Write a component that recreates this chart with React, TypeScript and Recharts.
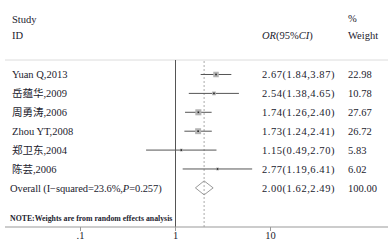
import {
  ScatterChart,
  Scatter,
  XAxis,
  YAxis,
  ReferenceLine,
  Customized,
} from "recharts";

const studies = ["Yuan Q,2013", "岳蕴华,2009", "周勇涛,2006", "Zhou YT,2008", "郑卫东,2004", "陈芸,2006"];
const oddsRatio = [2.67, 2.54, 1.74, 1.73, 1.15, 2.77];
const ciLow = [1.84, 1.38, 1.26, 1.24, 0.49, 1.19];
const ciHigh = [3.87, 4.65, 2.4, 2.41, 2.7, 6.41];
const weights = [22.98, 10.78, 27.67, 26.72, 5.83, 6.02];

const overallOR = 2.0;
const overallLow = 1.62;
const overallHigh = 2.49;
const overallWeight = 100.0;
const iSquared = 23.6;
const pValue = 0.257;

const xTicks = [0.1, 1, 10];

// axis extent (log scale) and row extent
const X_MIN = 0.01604;
const X_MAX = 172.5;
const ROW_TOP = -0.767;
const ROW_BOTTOM = 8.07;
const OVERALL_ROW = studies.length;

const FONT = "'Liberation Serif', 'Times New Roman', 'Noto Sans CJK SC', serif";
const INK = "#22222e";

const rows = studies.map((name, i) => ({
  name,
  x: oddsRatio[i],
  y: i,
  lo: ciLow[i],
  hi: ciHigh[i],
  w: weights[i],
}));

const diamond = [
  { x: overallLow, y: OVERALL_ROW },
  { x: overallOR, y: OVERALL_ROW - 0.37 },
  { x: overallHigh, y: OVERALL_ROW },
  { x: overallOR, y: OVERALL_ROW + 0.37 },
  { x: overallLow, y: OVERALL_ROW },
];

const fmtCI = (o: number, l: number, h: number) =>
  `${o.toFixed(2)}(${l.toFixed(2)},${h.toFixed(2)})`;

const txt = { fontSize: 10.5, fill: INK, style: { fontFamily: FONT } };
const ciTxt = { ...txt, letterSpacing: 0.55 };

function WeightSquare(props: any) {
  const { cx, cy, payload } = props;
  const s = 1.15 * Math.sqrt(payload.w);
  return (
    <g>
      <rect x={cx - s / 2} y={cy - s / 2} width={s} height={s} fill="#b4b4b4" />
      <rect x={cx - 0.8} y={cy - 0.8} width={1.6} height={1.6} fill="#222" />
    </g>
  );
}

function RowTick(props: any) {
  const { y, payload } = props;
  const i = payload.value;
  if (i === OVERALL_ROW) {
    return (
      <g>
        <text x={10} y={y} dy="0.36em" {...txt} letterSpacing={-0.1}>
          Overall (I−squared={iSquared.toFixed(1)}%,<tspan fontStyle="italic">P</tspan>={pValue.toFixed(3)})
        </text>
        <text x={262} y={y} dy="0.36em" {...ciTxt}>
          {fmtCI(overallOR, overallLow, overallHigh)}
        </text>
        <text x={348} y={y} dy="0.36em" {...txt}>
          {overallWeight.toFixed(2)}
        </text>
      </g>
    );
  }
  const r = rows[i];
  if (!r) return <g />;
  return (
    <g>
      <text x={12} y={y} dy="0.36em" {...txt}>
        {r.name}
      </text>
      <text x={262} y={y} dy="0.36em" {...ciTxt}>
        {fmtCI(r.x, r.lo, r.hi)}
      </text>
      <text x={348} y={y} dy="0.36em" {...txt}>
        {r.w.toFixed(2)}
      </text>
    </g>
  );
}

function Headers() {
  return (
    <g>
      <text x={12} y={23} {...txt}>Study</text>
      <text x={12} y={39} {...txt}>ID</text>
      <text x={262} y={39} {...txt}>
        <tspan fontStyle="italic">OR</tspan>(95%<tspan fontStyle="italic">CI</tspan>)
      </text>
      <text x={348} y={22} {...txt}>%</text>
      <text x={348} y={39} {...txt}>Weight</text>
      <text x={10} y={221} fontSize={7.8} fontWeight="bold" fill={INK} style={{ fontFamily: FONT }}>
        NOTE:Weights are from random effects analysis
      </text>
    </g>
  );
}

export default function App() {
  return (
    <div style={{ width: 388, height: 247, background: "#fff" }}>
      <style>{"body{margin:0}"}</style>
      <ScatterChart width={388} height={247} margin={{ top: 60, right: 0, bottom: 0, left: 4 }}>
        <XAxis
          dataKey="x"
          type="number"
          scale="log"
          domain={[X_MIN, X_MAX]}
          allowDataOverflow
          ticks={xTicks}
          tickFormatter={(v: number) => (v === 0.1 ? ".1" : String(v))}
          height={20}
          tickSize={4}
          tickMargin={1}
          stroke="#999"
          tick={{ fontSize: 10.5, fill: INK, style: { fontFamily: FONT } }}
        />
        <YAxis
          dataKey="y"
          type="number"
          domain={[ROW_TOP, ROW_BOTTOM]}
          reversed
          allowDataOverflow
          width={1}
          ticks={[...rows.map((r) => r.y), OVERALL_ROW]}
          interval={0}
          axisLine={false}
          tickLine={false}
          tick={(p: any) => <RowTick {...p} />}
        />
        <ReferenceLine y={ROW_TOP} stroke="#dcdcdc" />
        <ReferenceLine x={1} stroke="#555" />
        <ReferenceLine x={overallOR} stroke="#aaa" strokeDasharray="2 2" />
        {rows.map((r) => (
          <ReferenceLine
            key={r.name}
            segment={[
              { x: r.lo, y: r.y },
              { x: r.hi, y: r.y },
            ]}
            stroke="#555"
          />
        ))}
        <Scatter data={rows} shape={<WeightSquare />} isAnimationActive={false} />
        <Scatter
          data={diamond}
          line={{ stroke: "#999", strokeWidth: 1 }}
          lineType="joint"
          shape={() => <g />}
          isAnimationActive={false}
        />
        <Customized component={<Headers />} />
      </ScatterChart>
    </div>
  );
}
